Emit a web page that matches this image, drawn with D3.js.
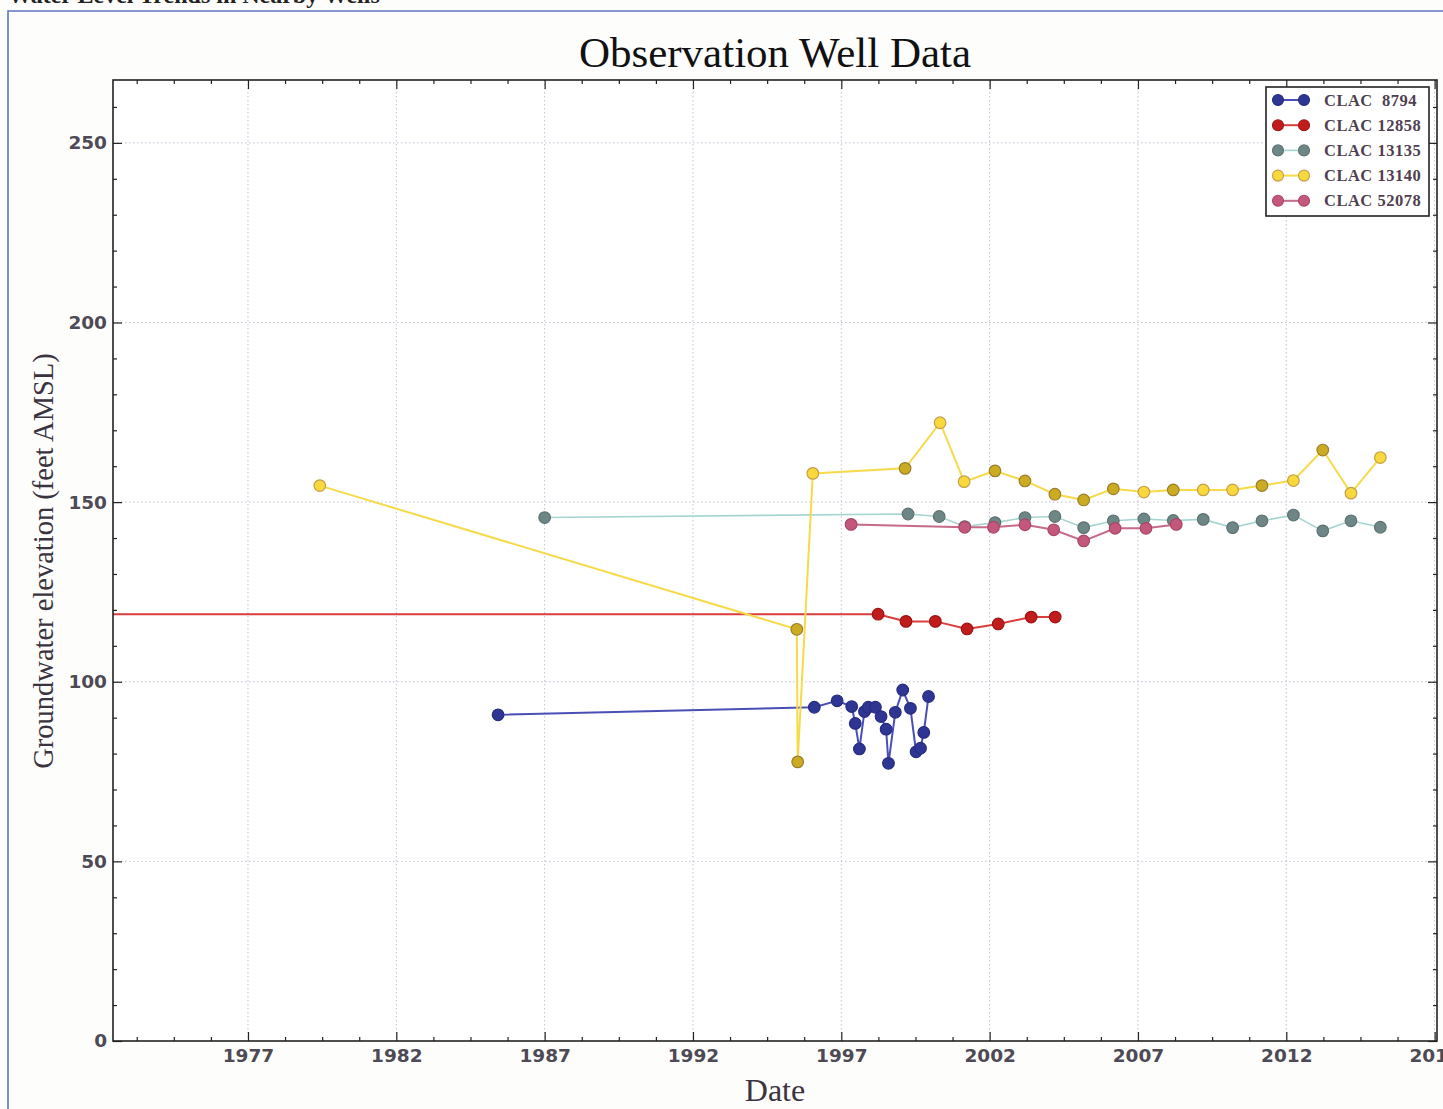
<!DOCTYPE html>
<html>
<head>
<meta charset="utf-8">
<script src="https://cdn.jsdelivr.net/npm/d3@7"></script>
<style>
  body { margin: 0; background: #fdfdfb; }
  svg { display: block; }
</style>
</head>
<body>
<svg class="well-chart"></svg>
<script>

// values (decimal years, feet AMSL)

const wellNames = ['CLAC  8794', 'CLAC 12858', 'CLAC 13135', 'CLAC 13140', 'CLAC 52078']

const blueDates  = [1985.43, 1996.09, 1996.86, 1997.35, 1997.47, 1997.61, 1997.78, 1997.91, 1998.15, 1998.34,
                    1998.51, 1998.59, 1998.82, 1999.07, 1999.33, 1999.52, 1999.67, 1999.78, 1999.94]
const blueLevels = [90.8, 92.9, 94.7, 93.1, 88.4, 81.3, 91.7, 92.9, 92.9, 90.3,
                    86.8, 77.3, 91.5, 97.7, 92.6, 80.5, 81.5, 85.9, 95.9]

const redDates  = [1970.0, 1998.24, 1999.18, 2000.17, 2001.24, 2002.29, 2003.40, 2004.21]
const redLevels = [118.8, 118.8, 116.8, 116.8, 114.7, 116.1, 118.0, 118.0]

const grayDates  = [1987.0, 1999.25, 2000.30, 2001.16, 2002.18, 2003.19, 2004.20, 2005.17, 2006.17,
                    2007.20, 2008.19, 2009.20, 2010.19, 2011.18, 2012.24, 2013.23, 2014.18, 2015.17]
const grayLevels = [145.7, 146.7, 146.0, 143.2, 144.3, 145.7, 146.0, 142.9, 144.8,
                    145.3, 144.9, 145.2, 142.9, 144.8, 146.4, 142.0, 144.8, 143.0]

const yellowDates  = [1979.42, 1995.50, 1995.53, 1996.04, 1999.15, 2000.33, 2001.14, 2002.18, 2003.19, 2004.20, 2005.17,
                      2006.17, 2007.20, 2008.19, 2009.20, 2010.19, 2011.18, 2012.24, 2013.23, 2014.18, 2015.17]
const yellowLevels = [154.6, 114.6, 77.7, 158.0, 159.4, 172.1, 155.7, 158.7, 155.9, 152.2, 150.6,
                      153.7, 152.8, 153.4, 153.4, 153.4, 154.6, 156.0, 164.5, 152.5, 162.4]
// markers that print darker (repeated readings on the same date)
const yellowRepeat = [1, 2, 2, 1, 2, 1, 1, 2, 2, 2, 2, 2, 1, 2, 1, 1, 2, 1, 2, 1, 1]

const pinkDates  = [1997.33, 2001.16, 2002.13, 2003.19, 2004.16, 2005.17, 2006.23, 2007.27, 2008.29]
const pinkLevels = [143.8, 143.0, 143.0, 143.7, 142.3, 139.2, 142.7, 142.7, 143.8]

const yearTicks  = [1977, 1982, 1987, 1992, 1997, 2002, 2007, 2012, 2017]
const levelTicks = [0, 50, 100, 150, 200, 250]

const draw = () => {

    const width = 1443
    const height = 1109

    const left = 113, right = 1437, top = 80, bottom = 1041

    const svg = d3.select('.well-chart')
        .attr('width', width)
        .attr('height', height)

    // scanned page: clipped heading + blue figure border
    svg.append('text')
        .attr('x', 8)
        .attr('y', 3)
        .attr('font-family', 'Liberation Serif')
        .attr('font-weight', 'bold')
        .attr('font-size', 24)
        .attr('fill', '#222')
        .text('Water Level Trends in Nearby Wells')

    svg.append('path')
        .attr('d', `M8,${height} V11 H${width}`)
        .attr('fill', 'none')
        .attr('stroke', '#5d74c4')
        .attr('stroke-width', 1.6)

    svg.append('rect')
        .attr('x', left).attr('y', top)
        .attr('width', right - left).attr('height', bottom - top)
        .attr('fill', '#fff')

    const x = d3.scaleLinear().domain([1972.45, 2017.08]).range([left, right])
    const y = d3.scaleLinear().domain([0, 267.5]).range([bottom, top])

    const minorYears = d3.range(1973.25, 2017.1, 1.25).filter(v => Math.abs(v - Math.round(v)) > 0.01 || (Math.round(v) - 1977) % 5 !== 0)
    const minorLevels = d3.range(0, 268, 10).filter(v => v % 50 !== 0)

    // dotted grid
    const grid = svg.append('g')
        .attr('stroke', '#c6bed3')
        .attr('stroke-width', 1)
        .attr('stroke-dasharray', '1.5,2.5')

    grid.selectAll('line.vx')
        .data(yearTicks.filter(d => x(d) < right - 1))
        .enter().append('line')
        .attr('x1', d => x(d)).attr('x2', d => x(d))
        .attr('y1', top).attr('y2', bottom)

    grid.selectAll('line.hy')
        .data(levelTicks.slice(1))
        .enter().append('line')
        .attr('x1', left).attr('x2', right)
        .attr('y1', d => y(d)).attr('y2', d => y(d))

    // ticks on all four sides, pointing inward
    const tickStyle = g => {
        g.select('.domain').remove()
        g.selectAll('line').attr('stroke', '#222').attr('stroke-width', 1.2)
        g.selectAll('text')
            .attr('font-family', 'DejaVu Sans')
            .attr('font-weight', 'bold')
            .attr('font-size', 18.5)
            .attr('fill', '#4d4a55')
    }

    svg.append('g')
        .attr('transform', `translate(0,${bottom})`)
        .call(d3.axisBottom(x).tickValues(yearTicks).tickFormat(d3.format('d')).tickSizeInner(-9).tickSizeOuter(0).tickPadding(8))
        .call(tickStyle)
    svg.append('g')
        .attr('transform', `translate(0,${bottom})`)
        .call(d3.axisBottom(x).tickValues(minorYears).tickFormat('').tickSizeInner(-4).tickSizeOuter(0))
        .call(tickStyle)
    svg.append('g')
        .attr('transform', `translate(0,${top})`)
        .call(d3.axisTop(x).tickValues(yearTicks).tickFormat('').tickSizeInner(-9).tickSizeOuter(0))
        .call(tickStyle)
    svg.append('g')
        .attr('transform', `translate(0,${top})`)
        .call(d3.axisTop(x).tickValues(minorYears).tickFormat('').tickSizeInner(-4).tickSizeOuter(0))
        .call(tickStyle)

    svg.append('g')
        .attr('transform', `translate(${left},0)`)
        .call(d3.axisLeft(y).tickValues(levelTicks).tickSizeInner(-9).tickSizeOuter(0).tickPadding(6))
        .call(tickStyle)
    svg.append('g')
        .attr('transform', `translate(${left},0)`)
        .call(d3.axisLeft(y).tickValues(minorLevels).tickFormat('').tickSizeInner(-4).tickSizeOuter(0))
        .call(tickStyle)
    svg.append('g')
        .attr('transform', `translate(${right},0)`)
        .call(d3.axisRight(y).tickValues(levelTicks).tickFormat('').tickSizeInner(-9).tickSizeOuter(0))
        .call(tickStyle)
    svg.append('g')
        .attr('transform', `translate(${right},0)`)
        .call(d3.axisRight(y).tickValues(minorLevels).tickFormat('').tickSizeInner(-4).tickSizeOuter(0))
        .call(tickStyle)

    // series

    svg.append('clipPath').attr('id', 'plot-clip')
        .append('rect')
        .attr('x', left).attr('y', top)
        .attr('width', right - left).attr('height', bottom - top)

    const series = [
        { name: wellNames[0], dates: blueDates,   levels: blueLevels,   line: '#4a4fb6', lw: 2,   fill: '#2f3592', edge: '#262c80' },
        { name: wellNames[1], dates: redDates,    levels: redLevels,    line: '#d93d3d', lw: 2,   fill: '#c11c1c', edge: '#a01414' },
        { name: wellNames[2], dates: grayDates,   levels: grayLevels,   line: '#a6d4d1', lw: 1.6, fill: '#6e8686', edge: '#5d7272' },
        { name: wellNames[3], dates: yellowDates, levels: yellowLevels, line: '#f6da4a', lw: 2,   fill: '#f8d83c', edge: '#c4a04a' },
        { name: wellNames[4], dates: pinkDates,   levels: pinkLevels,   line: '#c76a8a', lw: 2,   fill: '#c4577c', edge: '#a84868' }
    ]

    const lineGen = d3.line()
        .x(d => x(d[0]))
        .y(d => y(d[1]))

    const plot = svg.append('g').attr('clip-path', 'url(#plot-clip)')

    series.forEach((s, si) => {
        const pts = s.dates.map((d, i) => [d, s.levels[i], si === 3 ? yellowRepeat[i] : 1])

        plot.append('path')
            .datum(pts)
            .attr('d', lineGen)
            .attr('fill', 'none')
            .attr('stroke', s.line)
            .attr('stroke-width', s.lw)

        plot.selectAll(null)
            .data(pts)
            .enter()
            .append('circle')
            .attr('cx', d => x(d[0]))
            .attr('cy', d => y(d[1]))
            .attr('r', 5.8)
            .attr('fill', d => d[2] > 1 ? '#cbab22' : s.fill)
            .attr('stroke', d => d[2] > 1 ? '#9c7f2a' : s.edge)
            .attr('stroke-width', 1.2)
    })

    // frame
    svg.append('rect')
        .attr('x', left).attr('y', top)
        .attr('width', right - left).attr('height', bottom - top)
        .attr('fill', 'none')
        .attr('stroke', '#222')
        .attr('stroke-width', 1.6)

    // legend
    const legend = svg.append('g').attr('transform', 'translate(1266,87)')

    legend.append('rect')
        .attr('width', 163).attr('height', 129)
        .attr('fill', '#fff')
        .attr('stroke', '#222')
        .attr('stroke-width', 1.6)

    series.forEach((s, i) => {
        const ry = 13 + i * 25.2
        legend.append('line')
            .attr('x1', 12).attr('x2', 38)
            .attr('y1', ry).attr('y2', ry)
            .attr('stroke', s.line)
            .attr('stroke-width', s.lw)
        ;[12, 38].forEach(cx => {
            legend.append('circle')
                .attr('cx', cx).attr('cy', ry).attr('r', 5.5)
                .attr('fill', s.fill)
                .attr('stroke', s.edge)
                .attr('stroke-width', 1.1)
        })
        legend.append('text')
            .attr('x', 58).attr('y', ry + 5.5)
            .attr('font-family', 'Liberation Serif')
            .attr('font-weight', 'bold')
            .attr('font-size', 16.5)
            .attr('fill', '#4f3f50')
            .attr('letter-spacing', 0.5)
            .style('white-space', 'pre')
            .text(s.name)
    })

    // titles
    svg.append('text')
        .attr('x', 775).attr('y', 67)
        .attr('text-anchor', 'middle')
        .attr('font-family', 'Liberation Serif')
        .attr('font-size', 43)
        .attr('fill', '#111')
        .text('Observation Well Data')

    svg.append('text')
        .attr('x', 775).attr('y', 1101)
        .attr('text-anchor', 'middle')
        .attr('font-family', 'Liberation Serif')
        .attr('font-size', 32)
        .attr('fill', '#3a3340')
        .text('Date')

    svg.append('text')
        .attr('transform', 'translate(53,561) rotate(-90)')
        .attr('text-anchor', 'middle')
        .attr('font-family', 'Liberation Serif')
        .attr('font-size', 28.5)
        .attr('fill', '#3a3340')
        .text('Groundwater elevation (feet AMSL)')
}

draw()
</script>
</body>
</html>
